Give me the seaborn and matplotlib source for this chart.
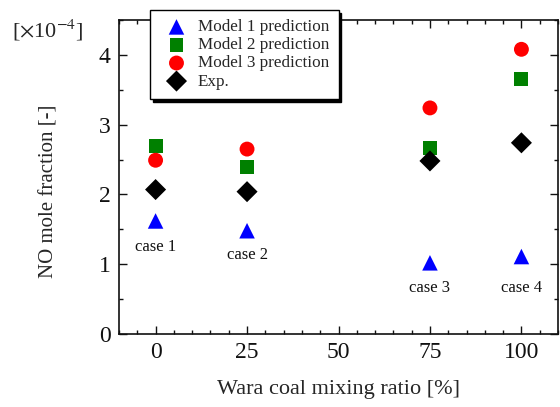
import matplotlib
matplotlib.use("Agg")
import matplotlib.pyplot as plt
import seaborn as sns
import pandas as pd
from matplotlib.ticker import MultipleLocator

sns.set_theme(style="ticks")
plt.rcParams['font.family'] = ['Liberation Serif', 'DejaVu Serif']
plt.rcParams['mathtext.fontset'] = 'stix'

ratio = [0, 25, 75, 100]
model1 = [1.62, 1.48, 1.02, 1.11]
model2 = [2.70, 2.39, 2.66, 3.65]
model3 = [2.49, 2.65, 3.24, 4.08]
exp = [2.07, 2.04, 2.48, 2.74]
case_labels = ["case 1", "case 2", "case 3", "case 4"]
case_label_y = [1.25, 1.13, 0.66, 0.66]

series = [
    ("Model 1 prediction", model1, "^", "#0000ff", 125),
    ("Model 2 prediction", model2, "s", "#008000", 100),
    ("Model 3 prediction", model3, "o", "#ff0000", 115),
    ("Exp.", exp, "D", "#000000", 115),
]

fig = plt.figure(figsize=(5.6, 4.07), dpi=100)
ax = fig.add_axes([119/560, 1-334/407, (558-119)/560, (334-20)/407])

for name, vals, m, c, s in series:
    df = pd.DataFrame({"x": ratio, "y": vals})
    sns.scatterplot(data=df, x="x", y="y", marker=m, color=c, s=s,
                    edgecolor="none", linewidth=0, label=name, ax=ax, zorder=3)

for xv, yv, t in zip(ratio, case_label_y, case_labels):
    ax.text(xv, yv, t, ha="center", va="center", fontsize=12, color="#111111")

ax.set_xlim(-10, 110)
ax.set_ylim(0, 4.5)
ax.xaxis.set_major_locator(MultipleLocator(25))
ax.xaxis.set_minor_locator(MultipleLocator(5))
ax.yaxis.set_major_locator(MultipleLocator(1))
ax.yaxis.set_minor_locator(MultipleLocator(0.5))
ax.tick_params(which="both", direction="in", top=True, right=True, colors="#111111")
ax.tick_params(which="major", length=6, width=1, labelsize=17, pad=6)
ax.tick_params(which="minor", length=3, width=1)
for sp in ax.spines.values():
    sp.set_linewidth(1.2)
    sp.set_color("#111111")

ax.set_xlabel("Wara coal mixing ratio [%]", fontsize=16, labelpad=12)
ax.set_ylabel("NO mole fraction [-]", fontsize=15)
ax.yaxis.set_label_coords(-0.138, 0.455)

fig.text(12/560, 1-30/407, r"[$\times$10$^{-4}$]", fontsize=16, ha="left", va="center")

leg = ax.legend(loc="upper left", bbox_to_anchor=(150/560, 1-10/407), bbox_transform=fig.transFigure,
                fontsize=12.3, frameon=True, fancybox=False,
                shadow={"facecolor": "black", "edgecolor": "black", "alpha": 1.0},
                handletextpad=0.25, labelspacing=0.12, borderpad=0.55, handlelength=2.0,
                borderaxespad=0, markerscale=1.0)
leg.get_frame().set_edgecolor("black")
leg.get_frame().set_linewidth(1.0)
leg.get_frame().set_alpha(1.0)
leg.set_zorder(10)

fig.savefig("out.png", dpi=100)
